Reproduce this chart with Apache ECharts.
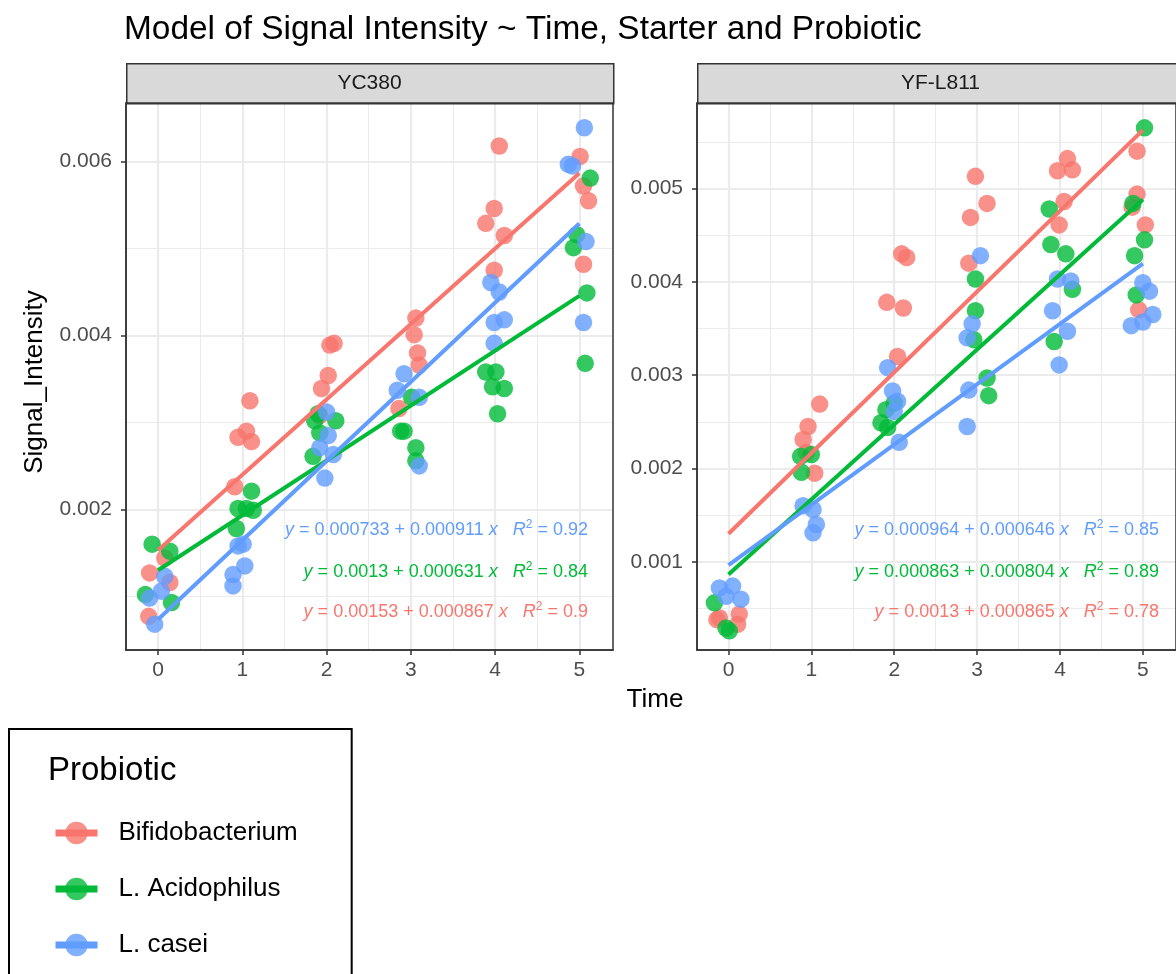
<!DOCTYPE html>
<html><head><meta charset="utf-8">
<script src="https://cdn.jsdelivr.net/npm/echarts@6/dist/echarts.min.js"></script>
<style>html,body{margin:0;padding:0;background:#fff}#c{width:1176px;height:974px}</style>
</head><body><div id="c"></div>
<script>
// ---------- data ----------
const starters = ['YC380', 'YF-L811'];
const probiotics = ['Bifidobacterium', 'L. Acidophilus', 'L. casei'];
const colors = ['#F8766D', '#00BA38', '#619CFF'];
const xTicks = [0, 1, 2, 3, 4, 5];
const xMinor = [0.5, 1.5, 2.5, 3.5, 4.5];
const yTicksYC = [0.002, 0.004, 0.006];
const yMinorYC = [0.001, 0.003, 0.005];
const yTicksYF = [0.001, 0.002, 0.003, 0.004, 0.005];
const yMinorYF = [0.0005, 0.0015, 0.0025, 0.0035, 0.0045, 0.0055];

// points: [jittered Time, Signal_Intensity]
const bifidoYC = [
  [0.08,0.00144],[-0.10,0.00127],[0.14,0.00116],[-0.11,0.00077],
  [1.09,0.00325],[0.95,0.00283],[1.05,0.00290],[1.11,0.00278],[0.91,0.00226],
  [2.09,0.00391],[2.04,0.00389],[2.02,0.00354],[1.94,0.00339],[1.92,0.00308],
  [3.06,0.00420],[3.04,0.00401],[3.08,0.00380],[3.10,0.00366],[2.86,0.00316],
  [4.05,0.00618],[3.99,0.00546],[3.89,0.00529],[4.11,0.00515],[3.99,0.00475],
  [5.01,0.00606],[5.05,0.00572],[5.11,0.00555],[5.05,0.00482]
];
const acidoYC = [
  [-0.07,0.00160],[0.14,0.00152],[-0.15,0.00102],[0.16,0.00093],
  [1.11,0.00221],[0.95,0.00201],[1.13,0.00199],[1.05,0.00201],[0.93,0.00178],
  [2.11,0.00302],[1.86,0.00302],[1.92,0.00288],[1.84,0.00261],[1.90,0.00310],
  [2.88,0.00290],[2.92,0.00290],[3.06,0.00271],[3.06,0.00256],[3.01,0.00329],
  [3.89,0.00358],[4.01,0.00358],[3.97,0.00341],[4.11,0.00339],[4.03,0.00310],
  [5.13,0.00581],[4.97,0.00516],[4.93,0.00501],[5.09,0.00449],[5.07,0.00368]
];
const caseiYC = [
  [0.08,0.00123],[0.04,0.00106],[-0.10,0.00098],[-0.04,0.00068],
  [0.95,0.00158],[1.01,0.00160],[1.03,0.00135],[0.89,0.00125],[0.89,0.00112],
  [2.00,0.00312],[2.02,0.00285],[1.92,0.00271],[2.08,0.00263],[1.98,0.00236],
  [2.92,0.00356],[2.84,0.00337],[3.10,0.00329],[3.10,0.00250],
  [3.95,0.00461],[4.05,0.00450],[3.99,0.00415],[4.11,0.00418],[3.99,0.00391],
  [5.06,0.00639],[4.87,0.00597],[4.92,0.00595],[5.08,0.00508],[5.05,0.00415]
];
const bifidoYF = [
  [-0.11,0.00040],[0.13,0.00044],[0.11,0.00033],[-0.14,0.00038],
  [1.10,0.00269],[0.96,0.00245],[0.90,0.00231],[0.94,0.00217],[1.04,0.00195],
  [2.09,0.00430],[2.15,0.00426],[1.91,0.00378],[2.11,0.00372],[2.04,0.00320],
  [2.98,0.00513],[2.92,0.00469],[3.12,0.00484],[2.90,0.00420],
  [4.09,0.00532],[4.15,0.00520],[3.97,0.00519],[4.05,0.00486],[3.99,0.00461],
  [4.93,0.00540],[4.93,0.00494],[4.87,0.00480],[5.03,0.00461],[4.95,0.00370]
];
const acidoYF = [
  [-0.17,0.00056],[0.01,0.00026],[-0.03,0.00029],
  [0.87,0.00213],[1.00,0.00215],[0.88,0.00196],
  [1.90,0.00263],[1.84,0.00249],[1.92,0.00244],[2.00,0.00270],
  [2.98,0.00403],[2.98,0.00369],[2.96,0.00338],[3.12,0.00297],[3.14,0.00278],
  [3.87,0.00478],[3.89,0.00440],[4.07,0.00430],[4.15,0.00392],[3.93,0.00336],
  [5.02,0.00565],[4.88,0.00484],[5.02,0.00445],[4.90,0.00428],[4.92,0.00386]
];
const caseiYF = [
  [-0.11,0.00072],[0.05,0.00074],[-0.03,0.00063],[0.15,0.00060],
  [0.90,0.00160],[1.02,0.00156],[1.06,0.00140],[1.02,0.00131],
  [1.92,0.00308],[1.98,0.00283],[2.04,0.00272],[2.00,0.00261],[2.06,0.00228],
  [3.04,0.00428],[2.94,0.00355],[2.88,0.00340],[2.90,0.00284],[2.88,0.00245],
  [3.97,0.00403],[4.13,0.00401],[3.91,0.00369],[4.09,0.00347],[3.99,0.00311],
  [5.00,0.00399],[5.08,0.00390],[5.12,0.00365],[4.86,0.00353],[5.00,0.00357]
];

// fitted lm per probiotic (as printed on the chart)
const interceptsYC = [0.00153, 0.0013, 0.000733];
const slopesYC = [0.000867, 0.000631, 0.000911];
const r2YC = [0.9, 0.84, 0.92];
const interceptsYF = [0.0013, 0.000863, 0.000964];
const slopesYF = [0.000865, 0.000804, 0.000646];
const r2YF = [0.78, 0.89, 0.85];
const fitRange = [0, 5];

// ---------- chart ----------
const FONT = '"Liberation Sans", Arial, sans-serif';
const panels = [
  { name: starters[0], pts: [bifidoYC, acidoYC, caseiYC], a: interceptsYC, b: slopesYC, r2: r2YC,
    yTicks: yTicksYC, yMinor: yMinorYC, yMin: 0.000383, yMax: 0.006674, left: 126 },
  { name: starters[1], pts: [bifidoYF, acidoYF, caseiYF], a: interceptsYF, b: slopesYF, r2: r2YF,
    yTicks: yTicksYF, yMinor: yMinorYF, yMin: 0.000055, yMax: 0.005916, left: 697 }
];
const GRID_TOP = 103, GRID_H = 547, GRID_W = 487;
const X_MIN = -0.38, X_MAX = 5.40;

const grids = [], xAxes = [], yAxes = [], series = [], graphics = [];
const tickLine = { color: '#333333', width: 1.5 };

panels.forEach((p, i) => {
  grids.push({ left: p.left, top: GRID_TOP, width: GRID_W, height: GRID_H, show: true,
    borderColor: '#333333', borderWidth: 1.5, backgroundColor: 'transparent', z: 10, containLabel: false });
  xAxes.push({ type: 'value', gridIndex: i, min: X_MIN, max: X_MAX, z: 11,
    axisLine: { show: true, onZero: false, lineStyle: tickLine },
    axisTick: { show: true, length: 5, customValues: xTicks, lineStyle: tickLine },
    axisLabel: { customValues: xTicks, fontSize: 21, color: '#4D4D4D', margin: 10, fontFamily: FONT },
    splitLine: { show: false }, minorSplitLine: { show: false } });
  yAxes.push({ type: 'value', gridIndex: i, min: p.yMin, max: p.yMax, z: 11,
    axisLine: { show: true, onZero: false, lineStyle: tickLine },
    axisTick: { show: true, length: 5, customValues: p.yTicks, lineStyle: tickLine },
    axisLabel: { customValues: p.yTicks, fontSize: 21, color: '#4D4D4D', margin: 14, fontFamily: FONT,
      formatter: v => String(+v.toFixed(6)) },
    splitLine: { show: false }, minorSplitLine: { show: false } });

  // panel grid lines (background), drawn through the axes' scales
  const ml = [];
  const vline = (v, w) => ml.push([{ coord: [v, p.yMin], lineStyle: { width: w } }, { coord: [v, p.yMax] }]);
  const hline = (v, w) => ml.push([{ coord: [X_MIN, v], lineStyle: { width: w } }, { coord: [X_MAX, v] }]);
  xMinor.forEach(v => vline(v, 1));
  p.yMinor.forEach(v => hline(v, 1));
  xTicks.forEach(v => vline(v, 2.2));
  p.yTicks.forEach(v => hline(v, 2.2));
  series.push({ type: 'line', xAxisIndex: i, yAxisIndex: i, data: [], silent: true, z: 1,
    markLine: { silent: true, symbol: ['none', 'none'], z: 1, animation: false,
      label: { show: false }, emphasis: { disabled: true },
      lineStyle: { color: '#EBEBEB', type: 'solid', width: 1 }, data: ml } });
});

// regression lines first (legend icon taken from the first series of each name)
panels.forEach((p, i) => {
  probiotics.forEach((name, k) => {
    series.push({ name, type: 'line', xAxisIndex: i, yAxisIndex: i, z: 4,
      data: fitRange.map(x => [x, p.a[k] + p.b[k] * x]),
      symbol: 'circle', symbolSize: 17, showSymbol: false, silent: true,
      lineStyle: { color: colors[k], width: 4 },
      itemStyle: { color: colors[k], opacity: 0.8 },
      emphasis: { disabled: true }, animation: false });
  });
});
panels.forEach((p, i) => {
  probiotics.forEach((name, k) => {
    series.push({ name, type: 'scatter', xAxisIndex: i, yAxisIndex: i, z: 3,
      data: p.pts[k], symbol: 'circle', symbolSize: 17.5,
      itemStyle: { color: colors[k], opacity: 0.8 },
      emphasis: { disabled: true }, animation: false });
  });
});

// strips, equations
panels.forEach((p, i) => {
  graphics.push({ type: 'rect', left: p.left, top: 63, shape: { width: GRID_W, height: 40 },
    style: { fill: '#D9D9D9', stroke: '#333333', lineWidth: 1.5 }, z: 5 });
  graphics.push({ type: 'text', x: p.left + GRID_W / 2, y: 83, z: 6,
    style: { text: p.name, fontSize: 21, fill: '#1A1A1A', fontFamily: FONT, textAlign: 'center', textVerticalAlign: 'middle' } });
  const rowY = [612, 572, 530];
  probiotics.forEach((name, k) => {
    graphics.push({ type: 'text', x: p.left + GRID_W - 25, y: rowY[k], z: 20,
      style: {
        text: '{i|y} = ' + p.a[k] + ' + ' + p.b[k] + ' {i|x}   {i|R}{s|2} = ' + p.r2[k],
        fill: colors[k], fontSize: 18, fontFamily: FONT, textAlign: 'right', textVerticalAlign: 'middle',
        rich: {
          i: { fontStyle: 'italic', fontSize: 18, fill: colors[k], fontFamily: FONT, lineHeight: 22 },
          s: { fontSize: 12, fill: colors[k], fontFamily: FONT, verticalAlign: 'top', lineHeight: 22 }
        }
      } });
  });
});

// axis titles and legend title
graphics.push({ type: 'text', x: 655, y: 700, style: { text: 'Time', fontSize: 26, fill: '#000', fontFamily: FONT, textAlign: 'center', textVerticalAlign: 'middle' } });
graphics.push({ type: 'text', x: 35, y: 382, rotation: Math.PI / 2,
  style: { text: 'Signal_Intensity', fontSize: 26, fill: '#000', fontFamily: FONT, textAlign: 'center', textVerticalAlign: 'middle' } });
graphics.push({ type: 'text', x: 48, y: 771, style: { text: 'Probiotic', fontSize: 33, fill: '#000', fontFamily: FONT, textAlign: 'left', textVerticalAlign: 'middle' } });

const chart = echarts.init(document.getElementById('c'), null, { renderer: 'canvas' });
chart.setOption({
  backgroundColor: '#ffffff',
  animation: false,
  title: { text: 'Model of Signal Intensity ~ Time, Starter and Probiotic', left: 124, top: 13, padding: 0,
    textStyle: { fontSize: 33.4, fontWeight: 'normal', color: '#000', fontFamily: FONT } },
  legend: { orient: 'vertical', left: 9, top: 729, height: 400, padding: [91, 54, 30, 43],
    itemWidth: 42, itemHeight: 28, itemGap: 30, borderColor: '#000', borderWidth: 2,
    selectedMode: false, data: probiotics,
    lineStyle: { width: 7 },
    textStyle: { fontSize: 26, color: '#000', fontFamily: FONT, padding: [0, 0, 0, 16] } },
  grid: grids, xAxis: xAxes, yAxis: yAxes, series, graphic: graphics
});
</script></body></html>
